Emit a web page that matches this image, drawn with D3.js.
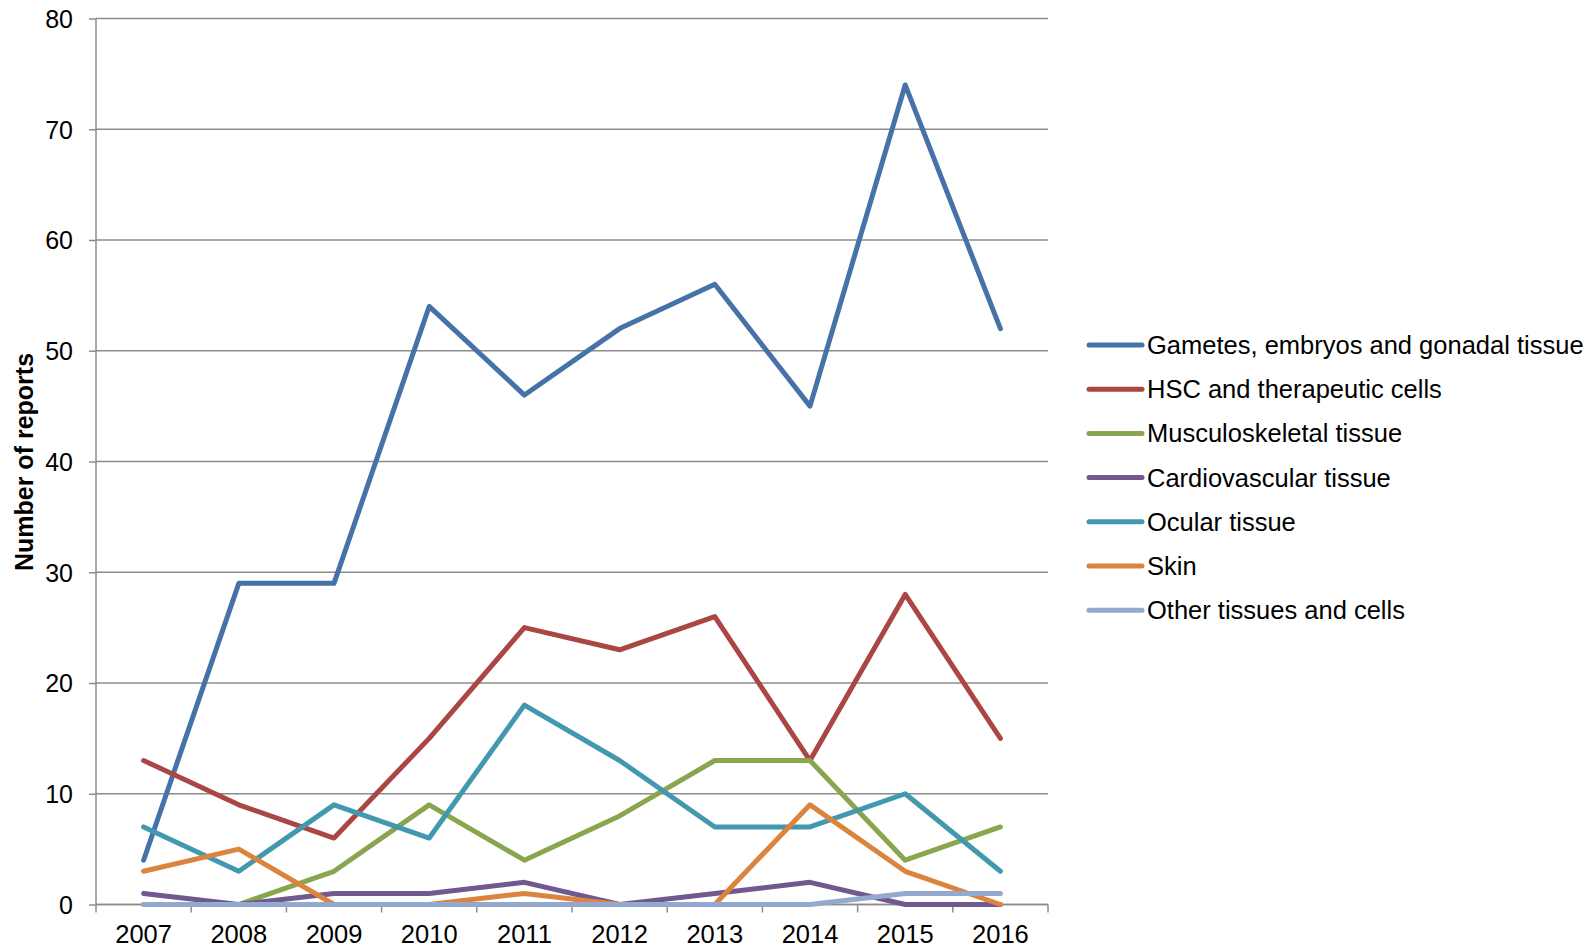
<!DOCTYPE html>
<html>
<head>
<meta charset="utf-8">
<script src="https://cdn.jsdelivr.net/npm/d3@7"></script>
<style>
  body { margin: 0; background: #fff; }
  svg { font-family: "Liberation Sans", Arial, sans-serif; }
  .tick text { fill: #000; }
</style>
</head>
<body>
<svg id="chart" width="1592" height="947"></svg>
<script>
var years = ["2007", "2008", "2009", "2010", "2011", "2012", "2013", "2014", "2015", "2016"];
var yTicks = [0, 10, 20, 30, 40, 50, 60, 70, 80];

var gametes = [4, 29, 29, 54, 46, 52, 56, 45, 74, 52];
var hsc = [13, 9, 6, 15, 25, 23, 26, 13, 28, 15];
var musculo = [0, 0, 3, 9, 4, 8, 13, 13, 4, 7];
var cardio = [1, 0, 1, 1, 2, 0, 1, 2, 0, 0];
var ocular = [7, 3, 9, 6, 18, 13, 7, 7, 10, 3];
var skin = [3, 5, 0, 0, 1, 0, 0, 9, 3, 0];
var other = [0, 0, 0, 0, 0, 0, 0, 0, 1, 1];

var seriesNames = ["Gametes, embryos and gonadal tissue", "HSC and therapeutic cells",
  "Musculoskeletal tissue", "Cardiovascular tissue", "Ocular tissue", "Skin", "Other tissues and cells"];
var seriesColors = ["#4572A7", "#AA4643", "#89A54E", "#71588F", "#4198AF", "#DB843D", "#93A9CF"];
var seriesValues = [gametes, hsc, musculo, cardio, ocular, skin, other];

var margin = {top: 18.5, right: 544, bottom: 42.5, left: 96};
var width = 1592 - margin.left - margin.right,
    height = 947 - margin.top - margin.bottom;

var svg = d3.select("#chart")
  .append("g")
    .attr("transform", "translate(" + margin.left + "," + margin.top + ")");

var x = d3.scaleBand()
    .domain(years)
    .range([0, width]);

var y = d3.scaleLinear()
    .domain([0, 80])
    .range([height, 0]);

// gridlines
svg.append("g")
  .selectAll("line")
  .data(yTicks)
  .join("line")
    .attr("x1", 0)
    .attr("x2", width)
    .attr("y1", function(d) { return y(d); })
    .attr("y2", function(d) { return y(d); })
    .attr("stroke", "#8c8c8c")
    .attr("stroke-width", 1.5);

// y axis
var yAxis = svg.append("g")
    .call(d3.axisLeft(y).tickValues(yTicks).tickSize(7).tickPadding(16));
yAxis.selectAll("path, line").attr("stroke", "#8c8c8c").attr("stroke-width", 1.5);
yAxis.select(".domain").attr("d", "M0," + height + "V0");
yAxis.selectAll("text").attr("font-size", 25).attr("dy", "0.35em");

// x axis with ticks on band edges
var xAxis = svg.append("g")
    .attr("transform", "translate(0," + height + ")")
    .call(d3.axisBottom(x).tickSize(0).tickPadding(16));
xAxis.select(".domain").attr("stroke", "#8c8c8c").attr("stroke-width", 1.5).attr("d", "M0,0H" + width);
xAxis.selectAll("text").attr("font-size", 25.5).attr("dy", "0.9em");
xAxis.selectAll(".edge")
  .data(d3.range(years.length + 1))
  .join("line")
    .attr("class", "edge")
    .attr("x1", function(i) { return i * x.step(); })
    .attr("x2", function(i) { return i * x.step(); })
    .attr("y1", 0)
    .attr("y2", 8)
    .attr("stroke", "#8c8c8c")
    .attr("stroke-width", 1.5);

// y label
svg.append("text")
    .attr("transform", "translate(" + (33 - margin.left) + "," + (462 - margin.top) + ") rotate(-90)")
    .attr("text-anchor", "middle")
    .attr("font-weight", "bold")
    .attr("font-size", 25)
    .text("Number of reports");

// lines
var line = d3.line()
    .x(function(d, i) { return x(years[i]) + x.bandwidth() / 2; })
    .y(function(d) { return y(d); });

svg.selectAll(".series")
  .data(seriesValues)
  .join("path")
    .attr("class", "series")
    .attr("fill", "none")
    .attr("stroke", function(d, i) { return seriesColors[i]; })
    .attr("stroke-width", 5)
    .attr("stroke-linejoin", "round")
    .attr("stroke-linecap", "round")
    .attr("d", line);

// legend
var legend = d3.select("#chart").append("g")
    .attr("transform", "translate(1089,345)");

var rows = legend.selectAll("g")
  .data(seriesNames)
  .join("g")
    .attr("transform", function(d, i) { return "translate(0," + (i * 44.2) + ")"; });

rows.append("line")
    .attr("x1", 0)
    .attr("x2", 53)
    .attr("stroke", function(d, i) { return seriesColors[i]; })
    .attr("stroke-width", 5)
    .attr("stroke-linecap", "round");

rows.append("text")
    .attr("x", 58)
    .attr("dy", "0.35em")
    .attr("font-size", 25.5)
    .text(function(d) { return d; });
</script>
</body>
</html>
